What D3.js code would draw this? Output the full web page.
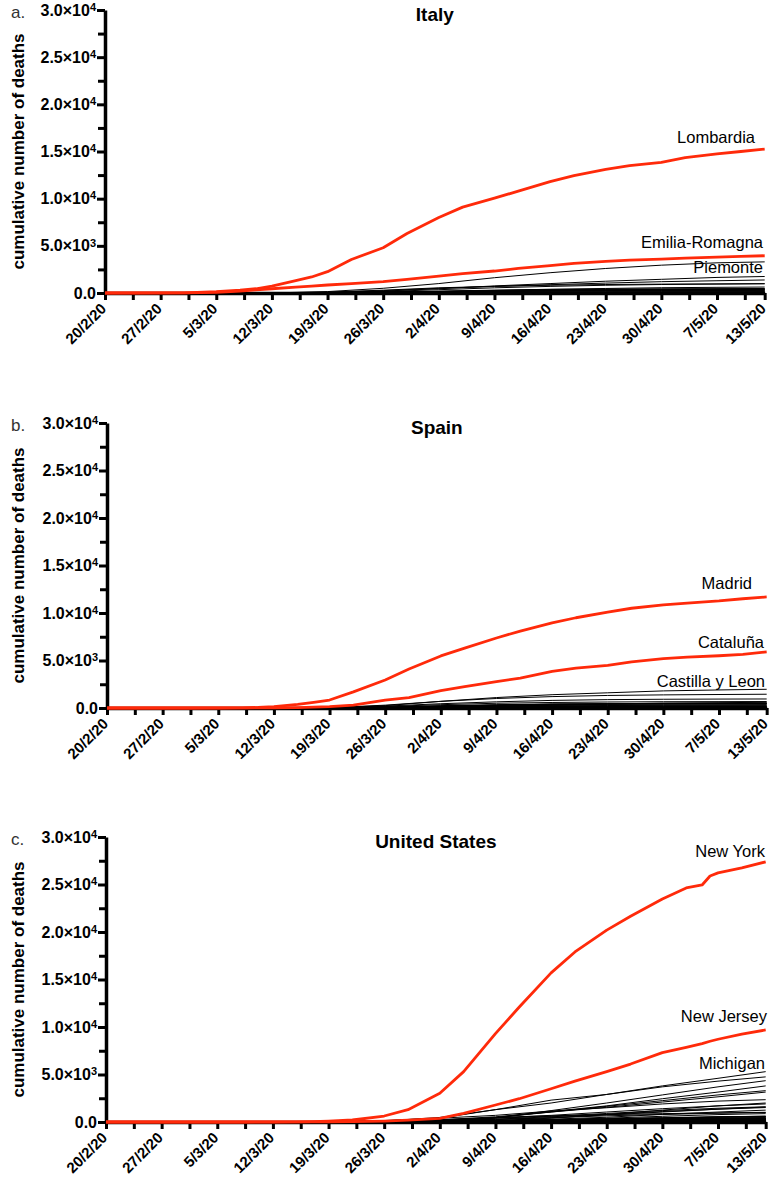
<!DOCTYPE html>
<html>
<head>
<meta charset="utf-8">
<script src="https://cdn.jsdelivr.net/npm/d3@7"></script>
<style>
  body { margin: 0; background: #fff; }
  svg { display: block; font-family: "Liberation Sans", Arial, sans-serif; }
</style>
</head>
<body>
<svg id="chart" width="772" height="1184"></svg>
<script>
// x axis: days since 20/2/20
const tickDays = [0, 7, 14, 21, 28, 35, 42, 49, 56, 63, 70, 77, 83];
const tickLabels = ['20/2/20', '27/2/20', '5/3/20', '12/3/20', '19/3/20', '26/3/20', '2/4/20',
  '9/4/20', '16/4/20', '23/4/20', '30/4/20', '7/5/20', '13/5/20'];
const minorDays = [3.5, 10.5, 17.5, 24.5, 31.5, 38.5, 45.5, 52.5, 59.5, 66.5, 73.5, 80.5];

// y axis
const yTicks = [0, 5000, 10000, 15000, 20000, 25000, 30000];
const yMantissa = ['0.0', '5.0×10', '1.0×10', '1.5×10', '2.0×10', '2.5×10', '3.0×10'];
const yExponent = ['', '3', '4', '4', '4', '4', '4'];
const yMinor = [2500, 7500, 12500, 17500, 22500, 27500];

// days used by the highlighted (red) series
const redDays = [0, 10, 14, 17, 19, 21, 24, 26, 28, 31, 35, 38, 42, 45, 49, 52, 56, 59, 63, 66, 70, 73, 77, 80, 83];
const redDaysUS = [0, 10, 14, 17, 19, 21, 24, 26, 28, 31, 35, 38, 42, 45, 49, 52, 56, 59, 63, 66, 70, 73, 75, 76, 77, 80, 83];
// days used by the other (black) series
const blackDays = [0, 14, 21, 28, 35, 42, 49, 56, 63, 70, 77, 83];

// ---- Italy ----
const lombardia = [0, 10, 140, 300, 450, 740, 1300, 1700, 2260, 3550, 4800, 6300, 8000, 9100, 10050,
  10800, 11800, 12450, 13100, 13500, 13850, 14350, 14750, 15000, 15250];
const emiliaRomagna = [0, 5, 60, 200, 330, 450, 620, 730, 850, 1000, 1200, 1450, 1780, 2050, 2330,
  2600, 2900, 3150, 3350, 3480, 3600, 3690, 3800, 3880, 3950];
const italyOthers = [
  [0, 0, 5, 150, 500, 1000, 1620, 2150, 2600, 2950, 3200, 3300],   // Piemonte
  [0, 2, 20, 60, 200, 450, 750, 1000, 1250, 1450, 1650, 1750],
  [0, 0, 5, 60, 250, 500, 700, 880, 1050, 1200, 1300, 1380],
  [0, 0, 10, 100, 300, 550, 700, 820, 900, 940, 960, 980],
  [0, 0, 1, 30, 150, 350, 550, 700, 820, 900, 950, 990],
  [0, 0, 5, 30, 80, 170, 280, 400, 480, 560, 600, 630],
  [0, 0, 0, 20, 80, 200, 300, 370, 410, 430, 445, 455],
  [0, 0, 2, 20, 70, 150, 250, 330, 380, 420, 450, 470],
  [0, 0, 2, 20, 60, 140, 220, 300, 340, 370, 385, 395],
  [0, 0, 0, 10, 60, 150, 230, 290, 320, 350, 370, 380],
  [0, 0, 5, 30, 80, 140, 190, 230, 260, 290, 310, 320],
  [0, 0, 0, 10, 40, 120, 190, 230, 260, 280, 290, 295],
  [0, 0, 2, 10, 40, 100, 160, 210, 240, 255, 265, 270],
  [0, 0, 0, 10, 40, 80, 110, 125, 135, 140, 142, 143],
  [0, 0, 0, 5, 20, 50, 80, 100, 110, 115, 120, 125],
  [0, 0, 0, 5, 15, 40, 60, 80, 85, 90, 93, 95],
  [0, 0, 0, 5, 15, 35, 50, 60, 65, 68, 70, 72],
  [0, 0, 0, 1, 3, 10, 15, 22, 25, 26, 27, 27],
  [0, 0, 0, 1, 5, 10, 15, 18, 20, 21, 22, 22]
];

// ---- Spain ----
const madrid = [0, 0, 5, 20, 60, 140, 380, 600, 840, 1700, 2950, 4100, 5480, 6300, 7370,
  8100, 8950, 9500, 10100, 10500, 10850, 11050, 11270, 11500, 11690];
const cataluna = [0, 0, 0, 3, 10, 20, 50, 90, 140, 300, 820, 1090, 1820, 2250, 2770,
  3150, 3850, 4200, 4480, 4850, 5200, 5350, 5500, 5650, 5900];
const spainOthers = [
  [0, 0, 0, 20, 250, 700, 1100, 1400, 1600, 1800, 1900, 1970],     // Castilla y Leon
  [0, 0, 0, 30, 300, 700, 1000, 1200, 1320, 1380, 1420, 1450],
  [0, 0, 2, 30, 200, 450, 650, 800, 880, 920, 940, 950],
  [0, 0, 2, 20, 150, 350, 500, 580, 630, 660, 670, 680],
  [0, 0, 0, 10, 100, 250, 350, 420, 460, 480, 490, 500],
  [0, 0, 0, 5, 60, 200, 280, 340, 380, 400, 420, 430],
  [0, 0, 0, 5, 50, 180, 300, 400, 440, 460, 470, 480],
  [0, 0, 0, 2, 30, 100, 200, 300, 420, 520, 560, 600],
  [0, 0, 0, 5, 60, 180, 300, 400, 440, 470, 490, 510],
  [0, 0, 0, 10, 60, 150, 220, 280, 310, 330, 340, 350],
  [0, 0, 0, 2, 20, 80, 160, 220, 260, 280, 290, 300],
  [0, 0, 0, 2, 20, 80, 130, 170, 190, 200, 210, 215],
  [0, 0, 0, 2, 20, 80, 140, 180, 200, 210, 215, 220],
  [0, 0, 0, 2, 20, 60, 100, 130, 140, 145, 148, 150],
  [0, 0, 0, 2, 15, 60, 100, 120, 130, 140, 142, 145],
  [0, 0, 0, 0, 0, 1, 2, 3, 4, 4, 4, 4],
  [0, 0, 0, 0, 0, 1, 2, 2, 2, 2, 2, 2]
];

// ---- United States ----
const newYork = [0, 0, 0, 0, 5, 10, 20, 50, 100, 210, 630, 1300, 3020, 5300, 9300, 12100,
  15700, 17900, 20200, 21650, 23480, 24640, 24950, 25900, 26220, 26750, 27380];
const newJersey = [0, 0, 0, 0, 0, 1, 3, 5, 10, 30, 100, 200, 390, 900, 1790, 2450,
  3500, 4300, 5300, 6100, 7300, 7850, 8250, 8500, 8710, 9250, 9690];
const usOthers = [
  [0, 0, 0, 5, 50, 400, 1300, 2000, 2900, 3800, 4600, 5300],       // Michigan
  [0, 0, 0, 15, 110, 480, 1300, 2300, 2900, 3700, 4300, 4750],
  [0, 0, 0, 0, 20, 120, 450, 1200, 2000, 2850, 3700, 4350],
  [0, 0, 0, 5, 30, 120, 450, 1100, 1700, 2450, 3150, 3800],
  [0, 0, 0, 5, 30, 130, 450, 1050, 1650, 2250, 2850, 3300],
  [0, 0, 0, 10, 60, 230, 550, 1050, 1550, 2100, 2650, 3150],
  [0, 0, 0, 20, 150, 400, 700, 1150, 1500, 1900, 2200, 2350],
  [0, 0, 0, 2, 15, 60, 150, 400, 800, 1250, 1700, 2000],
  [0, 0, 0, 5, 40, 200, 450, 700, 1050, 1400, 1700, 1900],
  [0, 0, 0, 5, 50, 200, 400, 600, 900, 1200, 1450, 1600],
  [0, 0, 0, 5, 20, 100, 250, 450, 750, 1050, 1350, 1580],
  [0, 0, 0, 5, 30, 120, 300, 550, 800, 1100, 1350, 1520],
  [0, 0, 0, 0, 10, 50, 150, 300, 500, 800, 1050, 1250],
  [0, 0, 0, 60, 150, 250, 450, 650, 780, 880, 960, 1020],
  [0, 0, 0, 5, 40, 150, 280, 450, 650, 800, 920, 1000],
  [0, 0, 0, 2, 15, 50, 120, 250, 400, 600, 780, 880],
  [0, 0, 0, 0, 5, 20, 60, 120, 200, 350, 520, 620],
  [0, 0, 0, 0, 5, 30, 100, 200, 330, 450, 560, 600],
  [0, 0, 0, 0, 10, 40, 120, 220, 330, 430, 520, 570],
  [0, 0, 0, 0, 10, 50, 120, 220, 320, 420, 510, 560],
  [0, 0, 0, 0, 5, 40, 100, 170, 240, 320, 400, 450],
  [0, 0, 0, 0, 5, 30, 90, 160, 230, 300, 390, 440],
  [0, 0, 0, 0, 10, 60, 140, 230, 280, 330, 390, 430],
  [0, 0, 0, 0, 2, 20, 60, 150, 250, 320, 370, 400],
  [0, 0, 0, 0, 5, 30, 80, 140, 220, 280, 340, 370],
  [0, 0, 0, 0, 5, 30, 80, 140, 210, 270, 330, 365],
  [0, 0, 0, 0, 10, 60, 140, 200, 250, 290, 330, 350],
  [0, 0, 0, 0, 5, 20, 60, 120, 190, 250, 300, 330],
  [0, 0, 0, 0, 5, 15, 40, 90, 160, 230, 290, 320],
  [0, 0, 0, 0, 5, 40, 100, 150, 200, 240, 270, 280],
  [0, 0, 0, 0, 5, 50, 100, 150, 200, 230, 260, 275],
  [0, 0, 0, 0, 2, 10, 40, 90, 140, 180, 220, 250],
  [0, 0, 0, 0, 2, 15, 40, 70, 120, 170, 220, 240],
  [0, 0, 0, 0, 2, 15, 50, 80, 110, 140, 165, 180],
  [0, 0, 0, 0, 2, 10, 25, 50, 80, 110, 140, 160],
  [0, 0, 0, 0, 5, 25, 50, 80, 100, 115, 128, 135],
  [0, 0, 0, 0, 0, 5, 15, 30, 50, 80, 105, 120],
  [0, 0, 0, 0, 2, 10, 25, 45, 60, 75, 90, 100],
  [0, 0, 0, 0, 1, 5, 15, 25, 40, 55, 70, 80],
  [0, 0, 0, 0, 2, 10, 30, 45, 60, 70, 75, 77],
  [0, 0, 0, 0, 1, 10, 20, 30, 45, 55, 62, 65],
  [0, 0, 0, 0, 1, 4, 10, 20, 35, 45, 55, 63],
  [0, 0, 0, 0, 2, 10, 25, 35, 45, 50, 52, 53],
  [0, 0, 0, 0, 0, 2, 6, 10, 20, 30, 38, 42],
  [0, 0, 0, 0, 0, 2, 5, 10, 15, 25, 30, 34],
  [0, 0, 0, 0, 1, 5, 10, 12, 15, 16, 17, 17],
  [0, 0, 0, 0, 1, 5, 8, 12, 14, 15, 16, 16],
  [0, 0, 0, 0, 0, 2, 6, 8, 9, 10, 10, 10],
  [0, 0, 0, 0, 0, 0, 1, 2, 6, 7, 7, 7]
];

const RED = '#ff2a0a';
const svg = d3.select('#chart');

// panel table built from the arrays above
const panels = [
  { letter: 'a.', title: 'Italy', left: 105, top: 10, bottom: 293,
    red: [lombardia, emiliaRomagna], redX: redDays, others: italyOthers,
    labels: [['Lombardia', 755, 143], ['Emilia-Romagna', 763, 248], ['Piemonte', 763, 273]] },
  { letter: 'b.', title: 'Spain', left: 107, top: 423, bottom: 708,
    red: [madrid, cataluna], redX: redDays, others: spainOthers,
    labels: [['Madrid', 752, 589], ['Cataluña', 764, 648], ['Castilla y Leon', 765, 687]] },
  { letter: 'c.', title: 'United States', left: 106, top: 837, bottom: 1122,
    red: [newYork, newJersey], redX: redDaysUS, others: usOthers,
    labels: [['New York', 765, 857], ['New Jersey', 767, 1022], ['Michigan', 765, 1069]] }
];

panels.forEach(p => {
  const g = svg.append('g');
  const x = d3.scaleLinear().domain([0, 83]).range([p.left, p.left + 83 * 7.948]);
  const y = d3.scaleLinear().domain([0, 30000]).range([p.bottom, p.top]);

  // minor ticks
  g.append('g')
    .attr('transform', `translate(0,${p.bottom})`)
    .call(d3.axisBottom(x).tickValues(minorDays).tickFormat('').tickSize(7).tickSizeOuter(0))
    .call(a => a.select('.domain').remove())
    .call(a => a.selectAll('line').attr('stroke-width', 3));
  g.append('g')
    .attr('transform', `translate(${p.left},0)`)
    .call(d3.axisLeft(y).tickValues(yMinor).tickFormat('').tickSize(7).tickSizeOuter(0))
    .call(a => a.select('.domain').remove())
    .call(a => a.selectAll('line').attr('stroke-width', 3));

  // x axis
  const xa = g.append('g')
    .attr('transform', `translate(0,${p.bottom})`)
    .call(d3.axisBottom(x).tickValues(tickDays).tickFormat((d, i) => tickLabels[i]).tickSize(7).tickSizeOuter(0));
  xa.select('.domain').attr('stroke-width', 3.5);
  xa.selectAll('line').attr('stroke-width', 3);
  xa.selectAll('text')
    .attr('font-size', 15).attr('font-weight', 'bold').attr('fill', '#000')
    .attr('text-anchor', 'end')
    .attr('x', 0).attr('y', 0).attr('dy', '0.35em')
    .attr('transform', 'translate(-2,13) rotate(-45)');

  // y axis
  const ya = g.append('g')
    .attr('transform', `translate(${p.left},0)`)
    .call(d3.axisLeft(y).tickValues(yTicks).tickSize(8).tickSizeOuter(0));
  ya.select('.domain').attr('stroke-width', 3.5);
  ya.selectAll('line').attr('stroke-width', 3);
  ya.selectAll('text')
    .attr('font-size', 16).attr('font-weight', 'bold').attr('fill', '#000').attr('x', -9)
    .text('')
    .each(function (d, i) {
      const t = d3.select(this);
      t.append('tspan').text(yMantissa[i]);
      if (yExponent[i]) t.append('tspan').attr('dy', '-0.45em').attr('font-size', 11).text(yExponent[i]);
    });

  // y title
  g.append('text')
    .attr('transform', `translate(24,${(p.top + p.bottom) / 2}) rotate(-90)`)
    .attr('text-anchor', 'middle')
    .attr('font-size', 17).attr('font-weight', 'bold')
    .text('cumulative number of deaths');

  // panel letter and title
  g.append('text').attr('x', 11).attr('y', p.top + 8)
    .attr('font-size', 17).attr('fill', '#333').text(p.letter);
  g.append('text').attr('x', (p.left + x.range()[1]) / 2).attr('y', p.top + 11)
    .attr('text-anchor', 'middle').attr('font-size', 19).attr('font-weight', 'bold')
    .text(p.title);

  // lines
  const blackLine = d3.line().x((d, i) => x(blackDays[i])).y(d => y(d));
  const redLine = d3.line().x((d, i) => x(p.redX[i])).y(d => y(d));

  g.append('g').selectAll('path').data(p.others).join('path')
    .attr('d', blackLine).attr('fill', 'none').attr('stroke', '#000')
    .attr('stroke-width', 1).attr('stroke-linejoin', 'round');
  g.append('g').selectAll('path').data(p.red).join('path')
    .attr('d', redLine).attr('fill', 'none').attr('stroke', RED)
    .attr('stroke-width', 2.8).attr('stroke-linejoin', 'round');

  // series labels
  g.append('g').selectAll('text').data(p.labels).join('text')
    .attr('x', d => d[1]).attr('y', d => d[2])
    .attr('text-anchor', 'end').attr('font-size', 16.5)
    .text(d => d[0]);
});
</script>
</body>
</html>
